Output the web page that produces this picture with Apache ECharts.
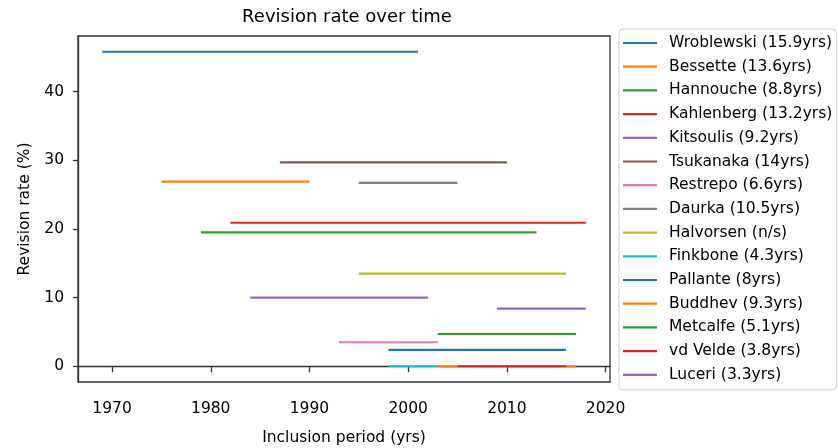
<!DOCTYPE html>
<html>
<head>
<meta charset="utf-8">
<script src="https://cdn.jsdelivr.net/npm/echarts@6/dist/echarts.min.js"></script>
<style>html,body{margin:0;padding:0;background:#fff}#c{width:838px;height:448px}</style>
</head>
<body>
<div id="c"></div>
<script>
const names = ["Wroblewski (15.9yrs)","Bessette (13.6yrs)","Hannouche (8.8yrs)","Kahlenberg (13.2yrs)","Kitsoulis (9.2yrs)","Tsukanaka (14yrs)","Restrepo (6.6yrs)","Daurka (10.5yrs)","Halvorsen (n/s)","Finkbone (4.3yrs)","Pallante (8yrs)","Buddhev (9.3yrs)","Metcalfe (5.1yrs)","vd Velde (3.8yrs)","Luceri (3.3yrs)"];
const startYears = [1969,1975,1979,1982,1984,1987,1993,1995,1995,1998,1998,2003,2003,2005,2009];
const endYears   = [2001,1990,2013,2018,2002,2010,2003,2005,2016,2003,2016,2017,2017,2016,2018];
const rates      = [45.8,26.9,19.5,20.9,10.0,29.7,3.5,26.7,13.5,0,2.4,0,4.7,0,8.4];
const colors = ["#1f77b4","#ff7f0e","#2ca02c","#d62728","#9467bd","#8c564b","#e377c2","#7f7f7f","#bcbd22","#17becf","#1f77b4","#ff7f0e","#2ca02c","#d62728","#9467bd"];
const xTicks = [1970,1980,1990,2000,2010,2020];
const yTicks = [0,10,20,30,40];

const font = "'DejaVu Sans', sans-serif";
const chart = echarts.init(document.getElementById('c'), null, {renderer:'canvas'});
const series = names.map((n,i)=>({
  name:n, type:'line', showSymbol:false, symbol:'none', animation:false,
  color: colors[i],
  lineStyle:{width:2.2, color:colors[i]},
  data:[[startYears[i],rates[i]],[endYears[i],rates[i]]]
}));
chart.setOption({
  animation:false,
  color: colors,
  title:{text:'Revision rate over time', left:342, textAlign:'center', top:3,
    textStyle:{fontFamily:font, fontSize:18, fontWeight:'normal', color:'#000'}},
  grid:{left:78, right:228, top:36, bottom:66, show:true, borderColor:'#333', borderWidth:1.3,
    containLabel:false, outerBoundsMode:'none'},
  xAxis:{type:'value', min:1966.55, max:2020.45,
    name:'Inclusion period (yrs)', nameLocation:'middle', nameGap:48,
    nameTextStyle:{fontFamily:font, fontSize:15.5, color:'#000'},
    axisLine:{show:true, lineStyle:{color:'#333', width:1.3}},
    axisTick:{show:true, length:6, customValues:xTicks, lineStyle:{color:'#333', width:1.3}},
    axisLabel:{customValues:xTicks, margin:19, fontFamily:font, fontSize:15.5, color:'#000',
      formatter:v=>String(v)},
    splitLine:{show:false}},
  yAxis:{type:'value', min:-2.29, max:48.09,
    name:'Revision rate (%)', nameLocation:'middle', nameGap:43, nameRotate:90,
    nameTextStyle:{fontFamily:font, fontSize:15.5, color:'#000'},
    axisLine:{show:true, lineStyle:{color:'#333', width:1.3}},
    axisTick:{show:true, length:5, customValues:yTicks, lineStyle:{color:'#333', width:1.3}},
    axisLabel:{customValues:yTicks, margin:14, fontFamily:font, fontSize:15.5, color:'#000',
      formatter:v=>String(v)},
    splitLine:{show:false}},
  legend:{orient:'vertical', left:619, top:29, data:names,
    icon:'rect', itemWidth:34, itemHeight:2.2, itemGap:5.7,
    padding:[5,4,6,4],
    borderColor:'#ccc', borderWidth:1, borderRadius:4, backgroundColor:'#fff',
    textStyle:{fontFamily:font, fontSize:15.5, color:'#000', lineHeight:18, padding:[0,0,0,7]}},
  series: series
});
</script>
</body>
</html>
